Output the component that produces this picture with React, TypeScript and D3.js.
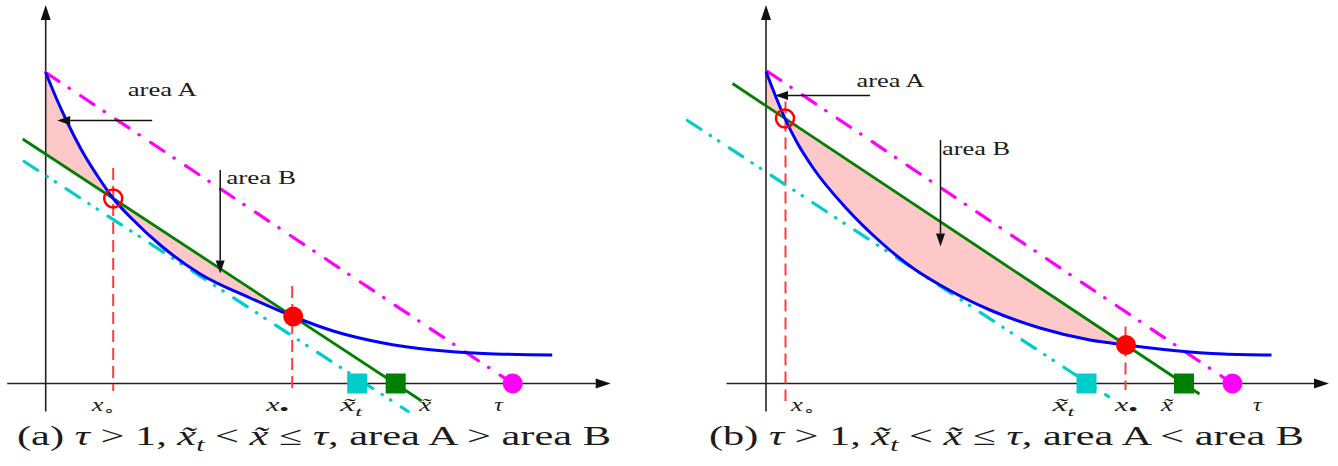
import React from "react";
import * as d3 from "d3";

const W = 1338;
const H = 466;

// ---- panel (a) ----
const curveUA = [0, 0.21, 0.42, 0.75, 1.09, 1.35, 1.75, 2.29, 3.09, 4.09, 4.95, 5.75, 6.75, 7.75, 8.75, 10.13];
const curveVA = [6.22, 5.71, 5.25, 4.61, 4.07, 3.7, 3.27, 2.77, 2.19, 1.71, 1.34, 1.05, 0.81, 0.67, 0.6, 0.57];
const chordA = [[-0.46, 4.89], [7.52, -0.35]];
const budgetA = [[0, 6.22], [9.34, 0]];
const tangentA = [[-0.43, 4.44], [7.25, -0.56]];
const crossA = [[1.35, 3.7], [4.95, 1.34]];
const guidesA = [[1.35, 4.31, -0.15], [4.93, 1.95, -0.19]];
const squaresA = [6.23, 7.0];
const tauA = 9.34;
const arrowsA = [[2.13, 5.26, 0.23, 5.26], [3.49, 4.27, 3.49, 2.2]];
const areaLabelsA: [string, number, number, number][] = [["area A", 1.64, 5.76, 69], ["area B", 3.61, 4.0, 70]];
const axisLabelsA: [string, number][] = [["xo", 0.92], ["xd", 4.41], ["xt", 5.89], ["xx", 7.47], ["tau", 8.97]];
const xAxisA = [-0.77, 11.3];

// ---- panel (b) ----
const curveUB = [0, 0.21, 0.38, 0.61, 0.95, 1.61, 2.28, 2.95, 3.48, 4.48, 5.48, 6.48, 7.2, 8.15, 9.15, 10.11];
const curveVB = [6.24, 5.7, 5.3, 4.84, 4.3, 3.5, 2.84, 2.3, 1.97, 1.47, 1.11, 0.87, 0.77, 0.66, 0.59, 0.57];
const chordB = [[-0.67, 6.0], [8.67, -0.21]];
const budgetB = [[0.03, 6.24], [9.33, 0]];
const tangentB = [[-1.57, 5.26], [6.85, -0.26]];
const crossB = [[0.38, 5.3], [7.2, 0.77]];
const guidesB = [[0.39, 5.64, -0.35], [7.19, 1.14, -0.13]];
const squaresB = [6.41, 8.36];
const tauB = 9.33;
const arrowsB = [[2.08, 5.76, 0.18, 5.76], [3.49, 4.87, 3.49, 2.74]];
const areaLabelsB: [string, number, number, number][] = [["area A", 1.81, 5.94, 68], ["area B", 3.52, 4.58, 68]];
const axisLabelsB: [string, number][] = [["xo", 0.5], ["xt", 5.73], ["xd", 6.98], ["xx", 7.9], ["tau", 9.74]];
const xAxisB = [-0.79, 11.26];

const yAxisRange = [-0.56, 7.57];
const labelWidths: Record<string, number> = { xo: 23.5, xd: 23, xt: 22, xx: 12, tau: 8.5 };

const panels = [
  { key: "a", x0: 45.7, u: curveUA, v: curveVA, chord: chordA, budget: budgetA, tangent: tangentA, cross: crossA,
    guides: guidesA, squares: squaresA, tau: tauA, arrows: arrowsA, areaLabels: areaLabelsA, axisLabels: axisLabelsA,
    xAxis: xAxisA, capX: 17, capW: 594, tag: "(a) ", rel: " > " },
  { key: "b", x0: 766, u: curveUB, v: curveVB, chord: chordB, budget: budgetB, tangent: tangentB, cross: crossB,
    guides: guidesB, squares: squaresB, tau: tauB, arrows: arrowsB, areaLabels: areaLabelsB, axisLabels: axisLabelsB,
    xAxis: xAxisB, capX: 709, capW: 595, tag: "(b) ", rel: " < " },
];

const FONT = "Liberation Serif";
const INK = "#1c1c1c";
const PINK = "#ffc8c8";
const BLUE = "#0000ff";
const GREEN = "#008000";
const CYAN = "#00cccc";
const MAGENTA = "#ff00ff";
const RED = "#ff0000";

function head(x1: number, y1: number, x2: number, y2: number, len: number, half: number) {
  const dx = x2 - x1, dy = y2 - y1, L = Math.hypot(dx, dy);
  const ux = dx / L, uy = dy / L;
  const bx = x2 - ux * len, by = y2 - uy * len;
  return {
    d: `M${x2},${y2}L${bx - uy * half},${by + ux * half}L${bx + uy * half},${by - ux * half}Z`,
    bx, by,
  };
}

function AxisLabel({ kind, x, y }: { kind: string; x: number; y: number }) {
  const w = labelWidths[kind];
  const common = { x, y, fontFamily: FONT, fontSize: 18, fill: INK, textLength: w, lengthAdjust: "spacingAndGlyphs" as const };
  if (kind === "xo")
    return <text {...common}><tspan fontStyle="italic">x</tspan><tspan dy={3} fontSize={13}>{"\u2218"}</tspan></text>;
  if (kind === "xd")
    return <text {...common}><tspan fontStyle="italic">x</tspan><tspan dy={4} fontSize={17}>{"\u2022"}</tspan></text>;
  if (kind === "xt")
    return <text {...common}><tspan fontStyle="italic">{"x\u0303"}</tspan><tspan dy={5} fontSize={13} fontStyle="italic">t</tspan></text>;
  if (kind === "xx")
    return <text {...common}><tspan fontStyle="italic">{"x\u0303"}</tspan></text>;
  return <text {...common}><tspan fontStyle="italic">{"\u03c4"}</tspan></text>;
}

function Panel({ p }: { p: (typeof panels)[number] }) {
  const x = d3.scaleLinear().domain([0, 10]).range([p.x0, p.x0 + 500]);
  const y = d3.scaleLinear().domain([0, 6]).range([383.5, 83.5]);
  const chordAt = d3.scaleLinear().domain([p.chord[0][0], p.chord[1][0]]).range([p.chord[0][1], p.chord[1][1]]);
  const idx = d3.range(p.u.length);

  const curve = d3.line<number>().x(i => x(p.u[i])).y(i => y(p.v[i])).curve(d3.curveMonotoneX)(idx) || "";
  const fill = d3.area<number>()
    .x(i => x(p.u[i]))
    .y1(i => y(p.v[i]))
    .y0(i => y(chordAt(p.u[i])))
    .curve(d3.curveMonotoneX)(idx) || "";
  const seg = d3.line<number[]>().x(d => x(d[0])).y(d => y(d[1]));
  const clipId = `clip-${p.key}`;
  const xEnd = p.cross[1][0];

  const xTip = head(x(p.xAxis[0]), y(0), x(p.xAxis[1]), y(0), 15, 5);
  const yTip = head(x(0), y(yAxisRange[0]), x(0), y(yAxisRange[1]), 15, 5);

  return (
    <g>
      <defs>
        <clipPath id={clipId}>
          <rect x={x(0)} y={0} width={x(xEnd) - x(0)} height={H} />
        </clipPath>
      </defs>
      <path d={fill} fill={PINK} stroke="none" clipPath={`url(#${clipId})`} />

      {/* axes */}
      <line x1={x(p.xAxis[0])} y1={y(0)} x2={xTip.bx} y2={y(0)} stroke="#222" strokeWidth={1.6} />
      <path d={xTip.d} fill="#111" />
      <line x1={x(0)} y1={y(yAxisRange[0])} x2={x(0)} y2={yTip.by} stroke="#222" strokeWidth={1.6} />
      <path d={yTip.d} fill="#111" />

      {/* guides at crossings */}
      {p.guides.map((g, i) => (
        <line key={i} x1={x(g[0])} x2={x(g[0])} y1={y(g[1])} y2={y(g[2])}
          stroke="#ff3c3c" strokeWidth={2} strokeDasharray="12,6" />
      ))}

      <path d={seg(p.tangent) || ""} fill="none" stroke={CYAN} strokeWidth={3.2}
        strokeLinecap="round" strokeDasharray="16,11,0.5,9.5,0.5,12.5" />
      <path d={seg(p.budget) || ""} fill="none" stroke={MAGENTA} strokeWidth={3.2}
        strokeLinecap="round" strokeDasharray="16,12,0.5,13.5" />
      <path d={seg(p.chord) || ""} fill="none" stroke={GREEN} strokeWidth={2.8} />
      <path d={curve} fill="none" stroke={BLUE} strokeWidth={3} />

      {/* markers */}
      <circle cx={x(p.cross[0][0])} cy={y(p.cross[0][1])} r={9} fill="none" stroke={RED} strokeWidth={2.5} />
      <circle cx={x(p.cross[1][0])} cy={y(p.cross[1][1])} r={10} fill={RED} />
      <rect x={x(p.squares[0]) - 10} y={y(0) - 10} width={20} height={20} fill={CYAN} />
      <rect x={x(p.squares[1]) - 10} y={y(0) - 10} width={20} height={20} fill={GREEN} />
      <circle cx={x(p.tau)} cy={y(0)} r={10} fill={MAGENTA} />

      {/* annotation arrows */}
      {p.arrows.map((a, i) => {
        const h = head(x(a[0]), y(a[1]), x(a[2]), y(a[3]), 13, 4.5);
        return (
          <g key={i}>
            <line x1={x(a[0])} y1={y(a[1])} x2={h.bx} y2={h.by} stroke="#111" strokeWidth={1.5} />
            <path d={h.d} fill="#111" />
          </g>
        );
      })}
      {p.areaLabels.map(([t, u, v, w]) => (
        <text key={t} x={x(u)} y={y(v)} fontFamily={FONT} fontSize={18} fill={INK}
          textLength={w} lengthAdjust="spacingAndGlyphs">{t}</text>
      ))}

      {p.axisLabels.map(([k, u]) => (
        <AxisLabel key={k} kind={k} x={x(u)} y={y(-0.55)} />
      ))}

      <text x={p.capX} y={445} fontFamily={FONT} fontSize={27} fill={INK} style={{ whiteSpace: "pre" }}
        textLength={p.capW} lengthAdjust="spacingAndGlyphs">
        <tspan>{p.tag}</tspan>
        <tspan fontStyle="italic">{"\u03c4"}</tspan>
        <tspan>{" > 1, "}</tspan>
        <tspan fontStyle="italic">{"x\u0303"}</tspan>
        <tspan dy={6} fontSize={19} fontStyle="italic">t</tspan>
        <tspan dy={-6}>{" < "}</tspan>
        <tspan fontStyle="italic">{"x\u0303"}</tspan>
        <tspan>{" \u2264 "}</tspan>
        <tspan fontStyle="italic">{"\u03c4"}</tspan>
        <tspan>{", area A" + p.rel + "area B"}</tspan>
      </text>
    </g>
  );
}

export default function App() {
  return (
    <svg width={W} height={H} viewBox={`0 0 ${W} ${H}`}
      style={{ position: "absolute", left: 0, top: 0, background: "#fff" }}>
      <rect width={W} height={H} fill="#fff" />
      {panels.map(p => <Panel key={p.key} p={p} />)}
    </svg>
  );
}
